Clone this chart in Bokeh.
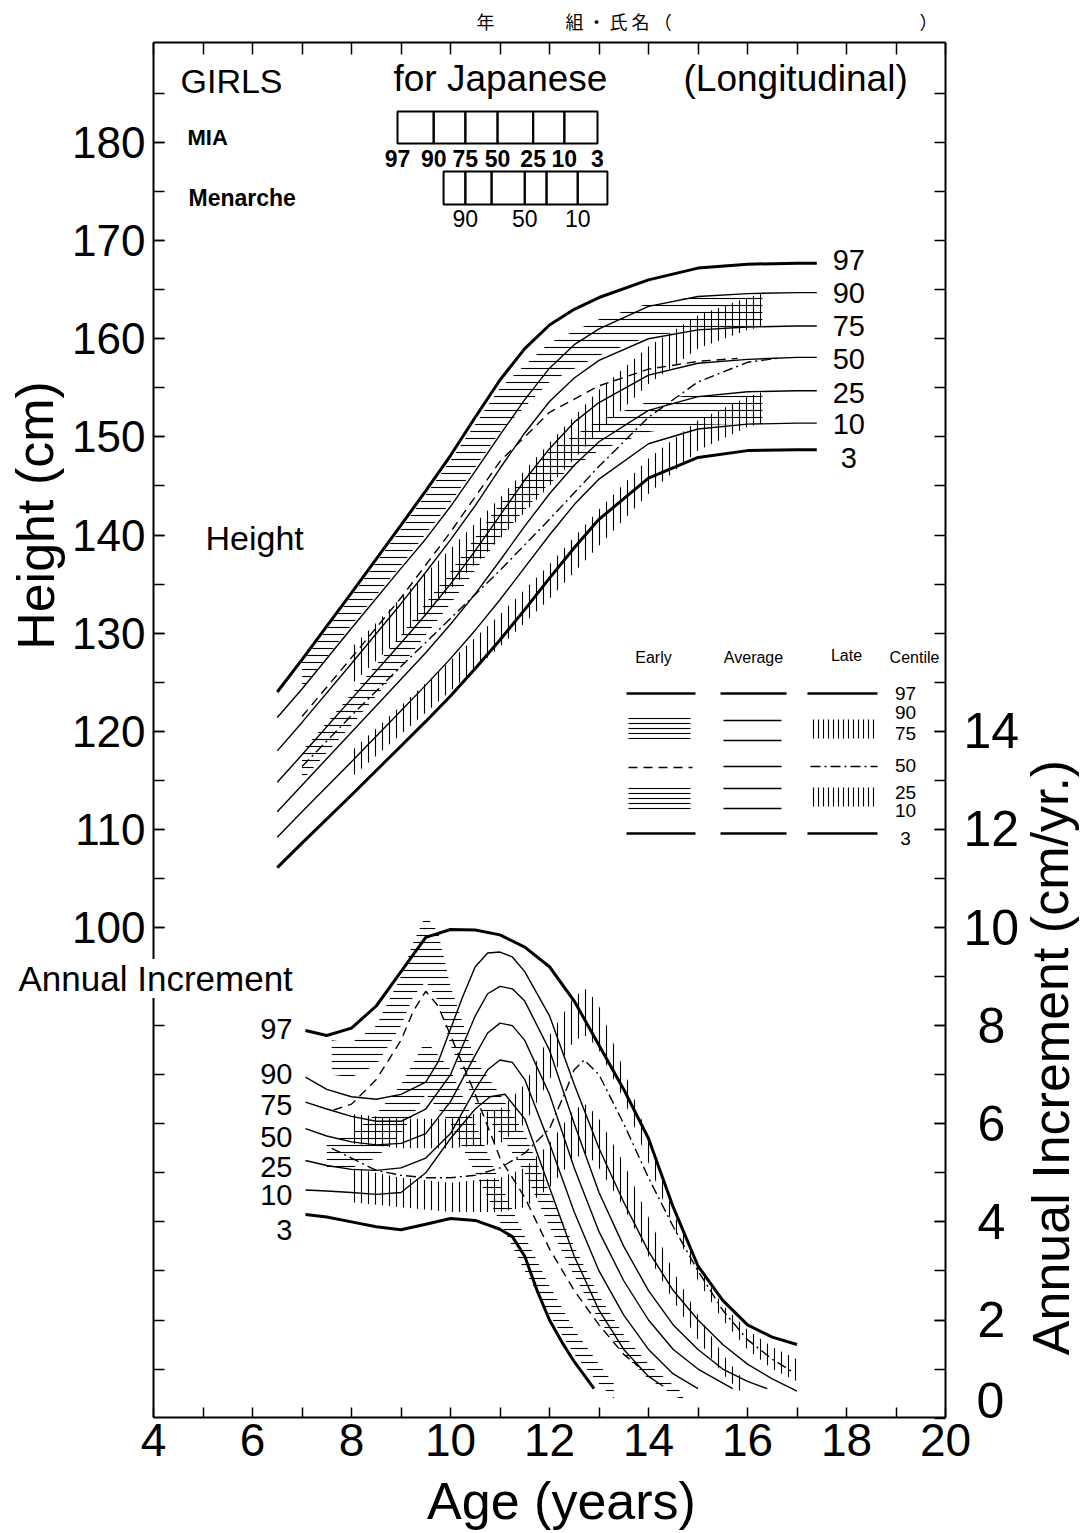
from bokeh.plotting import figure
from bokeh.models import Range1d, LinearAxis, FixedTicker, Label
from bokeh.embed import file_html
from bokeh.resources import INLINE
from bokeh.core.properties import value

# ---------------- data ----------------
CENTILES = ["97", "90", "75", "50", "25", "10", "3"]

# Height, average centiles (cm)
HT_AGE = [6.5, 7, 8, 9, 9.5, 10, 10.5, 11, 11.5, 12, 12.5, 13, 14, 15, 16, 17, 17.4]
ht_97 = [124.0, 127.3, 134.1, 141.0, 144.5, 148.1, 152.0, 155.8, 159.0, 161.4, 163.0, 164.2, 166.0, 167.2, 167.6, 167.7, 167.7]
ht_90 = [121.4, 124.3, 130.5, 136.6, 139.6, 142.9, 146.5, 150.2, 153.8, 157.0, 159.4, 161.0, 163.3, 164.3, 164.6, 164.7, 164.7]
ht_75 = [118.0, 120.9, 126.9, 133.0, 136.2, 139.5, 143.0, 146.8, 150.4, 153.6, 156.0, 157.8, 160.0, 160.9, 161.2, 161.3, 161.3]
ht_50 = [114.8, 117.6, 123.3, 129.0, 131.9, 135.0, 138.4, 142.0, 145.6, 148.8, 151.5, 153.5, 156.3, 157.5, 157.9, 158.1, 158.1]
ht_25 = [111.8, 114.5, 119.9, 125.3, 128.0, 130.9, 134.0, 137.4, 140.9, 144.2, 147.1, 149.5, 152.7, 154.1, 154.6, 154.7, 154.7]
ht_10 = [109.2, 111.8, 116.9, 122.1, 124.7, 127.4, 130.3, 133.4, 136.7, 140.0, 143.1, 145.7, 149.3, 150.8, 151.3, 151.4, 151.4]
ht_3 = [106.1, 108.6, 113.5, 118.5, 121.0, 123.6, 126.4, 129.3, 132.4, 135.6, 138.7, 141.6, 145.8, 147.9, 148.6, 148.7, 148.7]

# Height, early maturers
HTE_AGE = [7, 8, 9, 10, 11, 12, 13, 14, 15, 16.3]
ht_e90 = [127.0, 133.8, 140.6, 147.6, 155.0, 159.6, 162.0, 163.6, 164.3, 164.6]
ht_e75 = [124.3, 130.8, 136.9, 143.3, 150.5, 155.6, 158.3, 160.2, 161.0, 161.3]
ht_e25 = [118.0, 123.8, 129.8, 136.3, 143.2, 148.6, 151.7, 153.6, 154.4, 154.7]
ht_e10 = [115.0, 120.6, 126.6, 133.0, 139.8, 145.3, 148.6, 150.5, 151.2, 151.4]
HTE50_AGE = [7, 8, 9, 10, 11, 12, 13, 14, 15, 15.8]
ht_e50 = [121.5, 127.5, 133.6, 140.3, 147.5, 152.5, 155.2, 156.9, 157.7, 158.0]

# Height, late maturers
HTL_AGE = [8, 9, 10, 11, 12, 13, 14, 15, 16, 16.3]
ht_l90 = [128.5, 133.6, 138.6, 143.8, 149.4, 154.8, 159.2, 162.4, 164.2, 164.6]
ht_l75 = [124.8, 129.6, 134.5, 139.6, 145.0, 150.5, 155.4, 159.0, 160.9, 161.2]
ht_l25 = [118.0, 122.6, 127.2, 131.9, 137.0, 142.6, 147.8, 151.7, 154.1, 154.6]
ht_l10 = [115.3, 119.7, 124.1, 128.6, 133.5, 138.9, 144.2, 148.6, 151.0, 151.4]
HTL50_AGE = [7, 8, 9, 10, 11, 12, 13, 14, 15, 16, 16.6]
ht_l50 = [116.4, 121.6, 126.6, 131.5, 136.4, 141.6, 147.0, 152.0, 155.6, 157.6, 158.0]

# Annual increment, average centiles (cm/yr)
in_97_age = [7.07, 7.5, 8, 8.5, 9, 9.5, 10, 10.5, 11, 11.5, 12, 12.5, 13, 13.5, 14, 14.5, 15, 15.5, 16, 16.5, 17]
in_97 = [7.9, 7.8, 7.95, 8.4, 9.1, 9.8, 9.96, 9.95, 9.85, 9.6, 9.2, 8.5, 7.6, 6.7, 5.7, 4.3, 3.1, 2.4, 1.9, 1.65, 1.5]
in_90_age = [7.07, 7.5, 8, 8.5, 9, 9.5, 9.75, 10, 10.25, 10.5, 10.75, 11, 11.25, 11.5, 12, 12.5, 13, 13.5, 14, 14.5, 15, 15.5, 16, 16.5, 17]
in_90 = [6.95, 6.7, 6.55, 6.5, 6.6, 6.85, 7.26, 7.93, 8.6, 9.2, 9.48, 9.5, 9.4, 9.1, 8.2, 6.8, 5.5, 4.4, 3.4, 2.6, 2.0, 1.5, 1.1, 0.8, 0.55]
in_75_age = [7.07, 7.5, 8, 8.5, 9, 9.5, 10, 10.5, 10.75, 11, 11.25, 11.5, 12, 12.5, 13, 13.5, 14, 14.5, 15, 15.5, 16, 16.4]
in_75 = [6.44, 6.3, 6.15, 6.05, 6.05, 6.3, 7.0, 8.2, 8.65, 8.8, 8.75, 8.5, 7.5, 6.0, 4.6, 3.5, 2.6, 1.9, 1.4, 1.0, 0.75, 0.6]
in_50_age = [7.07, 7.5, 8, 8.5, 9, 9.5, 10, 10.5, 10.75, 11, 11.25, 11.5, 12, 12.5, 13, 13.5, 14, 14.5, 15, 15.7]
in_50 = [5.9, 5.75, 5.63, 5.57, 5.6, 5.8, 6.45, 7.4, 7.85, 8.05, 8.0, 7.7, 6.6, 5.1, 3.8, 2.8, 2.0, 1.4, 1.0, 0.6]
in_25_age = [7.07, 7.5, 8, 8.5, 9, 9.5, 10, 10.5, 10.75, 11, 11.25, 11.5, 12, 12.5, 13, 13.5, 14, 14.5, 15.0]
in_25 = [5.25, 5.15, 5.07, 5.05, 5.1, 5.3, 5.8, 6.7, 7.1, 7.3, 7.25, 6.9, 5.6, 4.2, 3.0, 2.1, 1.4, 0.9, 0.6]
in_10_age = [7.07, 7.5, 8, 8.5, 9, 9.5, 10, 10.5, 10.8, 11.1, 11.5, 12, 12.5, 13, 13.5, 14, 14.3]
in_10 = [4.65, 4.63, 4.6, 4.56, 4.6, 5.0, 5.7, 6.3, 6.55, 6.6, 6.1, 4.7, 3.3, 2.2, 1.4, 0.85, 0.65]
in_3_age = [7.07, 7.5, 8, 8.5, 9, 9.5, 10, 10.5, 11, 11.25, 11.5, 11.75, 12, 12.25, 12.5, 12.9]
in_3 = [4.15, 4.1, 4.0, 3.9, 3.84, 3.95, 4.07, 4.03, 3.85, 3.7, 3.3, 2.6, 2.0, 1.55, 1.15, 0.6]

# Annual increment, early maturers
INE_AGE = [7.6, 8, 8.5, 9, 9.25, 9.5, 9.75, 10, 10.5, 11, 11.5, 12, 12.5, 13, 13.5, 14, 14.7]
in_e90 = [7.7, 7.65, 8.0, 9.0, 9.7, 10.25, 9.9, 8.8, 7.3, 6.6, 5.8, 4.6, 3.5, 2.5, 1.7, 1.1, 0.5]
in_e75 = [7.0, 6.95, 7.2, 8.0, 8.6, 8.9, 8.5, 7.6, 6.4, 5.8, 5.0, 3.9, 2.9, 2.0, 1.3, 0.8, 0.35]
INE50_AGE = [7.64, 8, 8.5, 9, 9.25, 9.5, 9.75, 10, 10.5, 11, 11.5, 12, 12.5, 13, 13.5, 13.8]
in_e50 = [6.28, 6.4, 6.9, 7.7, 8.3, 8.7, 8.4, 7.8, 6.6, 5.3, 4.5, 3.45, 2.6, 1.9, 1.3, 1.05]
INE2_AGE = [7.5, 8, 8.5, 9, 9.5, 10, 10.5, 11, 11.5, 12, 12.5, 13, 13.3]
in_e25 = [5.6, 5.8, 6.2, 6.8, 7.7, 7.1, 6.0, 4.8, 3.7, 2.7, 1.8, 1.1, 0.7]
in_e10 = [5.05, 5.1, 5.3, 5.8, 6.6, 6.0, 5.0, 4.0, 3.0, 2.1, 1.3, 0.7, 0.4]

# Annual increment, late maturers
INL_AGE = [8, 9, 10, 11, 11.5, 12, 12.5, 12.75, 13, 13.5, 14, 14.5, 15, 15.5, 16, 16.5, 17]
in_l90 = [6.2, 6.1, 6.1, 6.3, 6.8, 7.8, 8.6, 8.75, 8.4, 7.1, 5.7, 4.2, 3.1, 2.3, 1.8, 1.45, 1.2]
in_l75 = [5.6, 5.5, 5.5, 5.6, 6.0, 6.9, 7.7, 7.8, 7.5, 6.5, 5.2, 3.9, 2.8, 2.0, 1.4, 1.0, 0.75]
INL50_AGE = [7.6, 8, 8.5, 9, 9.5, 10, 10.5, 11, 11.5, 12, 12.3, 12.5, 12.7, 13, 13.5, 14, 14.5, 15, 15.5, 16, 16.5, 16.9]
in_l50 = [5.5, 5.3, 5.05, 4.95, 4.9, 4.9, 4.95, 5.1, 5.4, 5.9, 6.6, 7.1, 7.3, 7.0, 6.0, 4.9, 3.9, 3.0, 2.2, 1.6, 1.2, 0.95]
INL2_AGE = [8, 9, 10, 11, 11.5, 12, 12.5, 12.75, 13, 13.5, 14, 14.5, 15, 15.5, 15.9]
in_l25 = [5.1, 4.9, 4.8, 4.9, 5.1, 5.6, 6.3, 6.4, 6.1, 5.2, 4.1, 3.0, 2.1, 1.3, 0.8]
in_l10 = [4.4, 4.3, 4.2, 4.2, 4.3, 4.7, 5.3, 5.4, 5.1, 4.3, 3.3, 2.4, 1.6, 0.9, 0.5]

# Age at maximum increment (MIA) and menarche, by centile
MIA_LABELS = ["97", "90", "75", "50", "25", "10", "3"]
mia_age = [8.93, 9.66, 10.3, 10.95, 11.67, 12.3, 12.97]
men_age = [9.86, 10.3, 10.83, 11.5, 11.94, 12.57, 13.17]
MEN_LABELS = ["90", "50", "10"]
men_label_age = [10.3, 11.5, 12.57]

# tick values
HT_MAJOR = list(range(100, 181, 10))
HT_MINOR = list(range(55, 190, 5))
INC_MAJOR = list(range(0, 15, 2))
INC_MINOR = list(range(1, 28))
AGE_MAJOR = list(range(4, 21, 2))
AGE_MINOR = list(range(5, 20, 2))

# ---------------- figure ----------------
FONT = "Liberation Sans"
CJK = "Noto Sans CJK JP"
W, H = 1086, 1533


def px_age(px):
    return 4 + (px - 153) / 49.5


def py_ht(py):
    return 100 + (927 - py) / 9.8125


def ht_inc(h):
    return (h - 50) / 5.0


p = figure(width=W, height=H, x_range=Range1d(px_age(0), px_age(W)),
           y_range=Range1d(py_ht(H), py_ht(0)),
           output_backend="svg", toolbar_location=None, x_axis_type=None, y_axis_type=None,
           min_border=0, min_border_left=0, min_border_right=0, min_border_top=0, min_border_bottom=0)
if p.title is not None:
    p.title.visible = False
p.extra_y_ranges = {"inc": Range1d(ht_inc(py_ht(H)), ht_inc(py_ht(0)))}
p.outline_line_color = None
p.background_fill_color = "white"
p.border_fill_color = "white"
p.xgrid.visible = False
p.ygrid.visible = False

AGE_LO, AGE_HI = 4, 20
HT_LO, HT_HI = py_ht(1417), py_ht(42)


def style_axis(a, tick_in=12):
    a.axis_line_width = 2
    a.axis_line_color = "black"
    a.major_tick_in = tick_in
    a.major_tick_out = 0
    a.minor_tick_in = tick_in
    a.minor_tick_out = 0
    a.major_tick_line_width = 1.5
    a.minor_tick_line_width = 1.5
    a.major_label_text_color = "black"
    a.major_label_text_font = FONT


left = LinearAxis(ticker=FixedTicker(ticks=HT_MAJOR, minor_ticks=HT_MINOR),
                  fixed_location=AGE_LO, bounds=(HT_LO, HT_HI))
style_axis(left, 11)
left.major_label_text_font_size = "44px"
left.major_label_standoff = 8
p.add_layout(left, "left")

NB = "\u00a0"
right = LinearAxis(y_range_name="inc", ticker=FixedTicker(ticks=INC_MAJOR, minor_ticks=INC_MINOR),
                   fixed_location=AGE_HI, bounds=(ht_inc(HT_LO), ht_inc(HT_HI)))
style_axis(right, 11)
right.major_label_text_font_size = "50px"
right.major_label_standoff = 18
right.major_label_overrides = {0: "", 2: NB + "2", 4: NB + "4", 6: NB + "6", 8: NB + "8"}
p.add_layout(right, "right")

bottom = LinearAxis(ticker=FixedTicker(ticks=AGE_MAJOR, minor_ticks=AGE_MINOR),
                    fixed_location=HT_LO, bounds=(AGE_LO, AGE_HI))
style_axis(bottom, 10)
bottom.major_label_text_font_size = "46px"
bottom.major_label_standoff = 6
p.add_layout(bottom, "below")

top = LinearAxis(ticker=FixedTicker(ticks=list(range(4, 21))), fixed_location=HT_HI,
                 bounds=(AGE_LO, AGE_HI))
style_axis(top, 12)
top.major_label_text_font_size = "1px"
top.major_label_text_color = None
top.major_label_standoff = 0
p.add_layout(top, "above")


def band(ages, upper, lower, pattern, rng="default", scale=7):
    xs = list(ages) + list(ages)[::-1]
    ys = list(upper) + list(lower)[::-1]
    p.patch(xs, ys, fill_color=None, line_color=None, hatch_pattern=pattern,
            hatch_color="black", hatch_scale=scale, hatch_weight=1.1, y_range_name=rng)


# ---- height bands ----
band(HTE_AGE, ht_e90, ht_e75, "horizontal_line")
band(HTE_AGE, ht_e25, ht_e10, "horizontal_line")
band(HTL_AGE, ht_l90, ht_l75, "vertical_line")
band(HTL_AGE, ht_l25, ht_l10, "vertical_line")
# ---- increment bands ----
band(INE_AGE, in_e90, in_e75, "horizontal_line", "inc")
band(INE2_AGE, in_e25, in_e10, "horizontal_line", "inc")
band(INL_AGE, in_l90, in_l75, "vertical_line", "inc")
band(INL2_AGE, in_l25, in_l10, "vertical_line", "inc")

# ---- height lines ----
ht_series = [ht_97, ht_90, ht_75, ht_50, ht_25, ht_10, ht_3]
for name, ys in zip(CENTILES, ht_series):
    w = 3 if name in ("97", "3") else 1.4
    p.line(HT_AGE, ys, line_color="black", line_width=w)
p.line(HTE50_AGE, ht_e50, line_color="black", line_width=1.4, line_dash="9 6")
p.line(HTL50_AGE, ht_l50, line_color="black", line_width=1.4, line_dash="10 4 2 4")

# ---- increment lines ----
in_series = [(in_97_age, in_97), (in_90_age, in_90), (in_75_age, in_75), (in_50_age, in_50),
             (in_25_age, in_25), (in_10_age, in_10), (in_3_age, in_3)]
for name, (xs, ys) in zip(CENTILES, in_series):
    w = 3 if name in ("97", "3") else 1.4
    p.line(xs, ys, line_color="black", line_width=w, y_range_name="inc")
p.line(INE50_AGE, in_e50, line_color="black", line_width=1.4, line_dash="9 6", y_range_name="inc")
p.line(INL50_AGE, in_l50, line_color="black", line_width=1.4, line_dash="10 4 2 4", y_range_name="inc")

# ---- centile labels on curves ----
ht_lab_dy = [-3, 0, 0, 2, 2, 1, 8]
p.text(x=[HT_AGE[-1]] * 7, y=[s[-1] for s in ht_series], text=CENTILES, x_offset=32,
       y_offset=ht_lab_dy, text_align="center", text_baseline="middle",
       text_font=value(FONT), text_font_size="29px", text_color="black")
in_lab_dy = [-2, -3, 3, 8, 6, 5, 15]
p.text(x=[s[0][0] for s in in_series], y=[s[1][0] for s in in_series], text=CENTILES,
       x_offset=-13, y_offset=in_lab_dy, text_align="right", text_baseline="middle",
       text_font=value(FONT), text_font_size="29px", text_color="black", y_range_name="inc")

# ---- MIA and Menarche boxes ----
p.quad(left=mia_age[:-1], right=mia_age[1:], bottom=py_ht(143), top=py_ht(111),
       fill_color=None, line_color="black", line_width=2)
p.text(x=mia_age, y=[py_ht(158)] * 7, text=MIA_LABELS, text_align="center", text_baseline="middle",
       text_font=value(FONT), text_font_size="23px", text_font_style="bold", text_color="black")
p.quad(left=men_age[:-1], right=men_age[1:], bottom=py_ht(204), top=py_ht(171),
       fill_color=None, line_color="black", line_width=2)
p.text(x=men_label_age, y=[py_ht(218)] * 3, text=MEN_LABELS, text_align="center", text_baseline="middle",
       text_font=value(FONT), text_font_size="23px", text_color="black")


def label(text, px, py, size, font=FONT, align="left", style="normal", angle=0, bg=None):
    lb = Label(x=px_age(px), y=py_ht(py), text=text, text_font=font, text_font_size=size,
               text_align=align, text_baseline="middle", text_font_style=style, angle=angle,
               text_color="black")
    if bg:
        lb.background_fill_color = bg
    p.add_layout(lb)


# titles
label("GIRLS", 180, 80, "34px")
label("for  Japanese", 393, 78, "37px")
label("(Longitudinal)", 683, 78, "37px")
label("MIA", 187, 137, "22px", style="bold")
label("Menarche", 188, 197, "23px", style="bold")
label("Height", 205, 537, "34px")
label("Annual  Increment", 18, 978, "35px", bg="white")
label("年", 485, 20, "18px", font=CJK, align="center")
label("組 ・ 氏 名 （", 565, 20, "18px", font=CJK)
label("）", 928, 20, "18px", font=CJK, align="center")

# axis titles
label("Height (cm)", 35, 515, "52px", align="center", angle=1.5708)
label("Annual Increment (cm/yr.)", 1050, 1057, "52px", align="center", angle=1.5708)
label("Age (years)", 561, 1500, "52px", align="center")
label("0", 990, 1400, "50px", align="center")

# ---------------- key ----------------
label("Early", 653, 657, "16px", align="center")
label("Average", 753, 657, "16px", align="center")
label("Late", 846, 655, "16px", align="center")
label("Centile", 914, 657, "16px", align="center")

rows = {"97": 693, "90": 720, "75": 740, "50": 766, "25": 788, "10": 808, "3": 833}
for c in ("97", "3"):
    y = py_ht(rows[c])
    p.line([px_age(626), px_age(695)], [y, y], line_color="black", line_width=2.5)
    p.line([px_age(720), px_age(786)], [y, y], line_color="black", line_width=2.5)
    p.line([px_age(807), px_age(877)], [y, y], line_color="black", line_width=2.5)
for c in ("90", "75", "50", "25", "10"):
    y = py_ht(rows[c])
    p.line([px_age(723), px_age(781)], [y, y], line_color="black", line_width=1.3)
p.line([px_age(628), px_age(692)], [py_ht(767)] * 2, line_color="black", line_width=1.3, line_dash="9 6")
p.line([px_age(810), px_age(877)], [py_ht(766)] * 2, line_color="black", line_width=1.3, line_dash="10 4 2 4")
for t, b in ((717, 739), (787, 810)):
    p.quad(left=px_age(628), right=px_age(690), top=py_ht(t), bottom=py_ht(b), fill_color=None,
           line_color=None, hatch_pattern="horizontal_line", hatch_scale=5, hatch_weight=1.1,
           hatch_color="black")
for t, b in ((719, 738), (787, 806)):
    p.quad(left=px_age(811), right=px_age(876), top=py_ht(t), bottom=py_ht(b), fill_color=None,
           line_color=None, hatch_pattern="vertical_line", hatch_scale=5, hatch_weight=1.1,
           hatch_color="black")
key_y = [693, 712, 733, 765, 792, 810, 838]
p.text(x=[px_age(905)] * 7, y=[py_ht(v) for v in key_y], text=CENTILES, text_align="center",
       text_baseline="middle", text_font=value(FONT), text_font_size="19px", text_color="black")

open("out.html", "w").write(file_html(p, INLINE))
